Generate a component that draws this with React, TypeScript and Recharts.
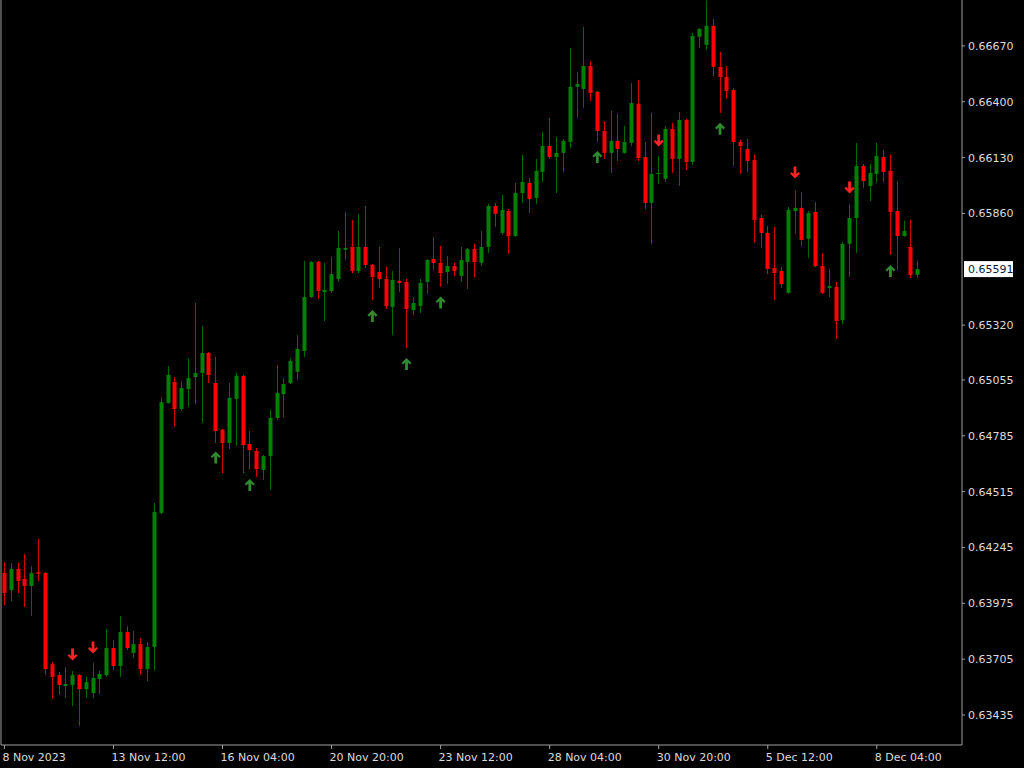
import { ComposedChart, Bar, Scatter, XAxis, YAxis } from 'recharts'

const W = 1024
const H = 768
const AXIS_W = 62
const AXIS_H = 23
const PLOT_RIGHT = W - AXIS_W
const PLOT_BOTTOM = H - AXIS_H

const BODY_UP = '#008000'
const BODY_DN = '#ff0000'
const WICK_UP = '#006a00'
const WICK_DN = '#d40000'
const ARROW_UP = '#2e8b2e'
const ARROW_DN = '#ff2424'
const AXIS = '#a0a0a0'
const TEXT = '#dcdcdc'
const FONT = 'DejaVu Sans'

// H4 candles, 8 Nov 20:00 .. 8 Dec
const opens = [
  0.64122, 0.64039, 0.64141, 0.64093, 0.64059, 0.64125, 0.64122, 0.63681, 0.63628, 0.63575,
  0.63580, 0.63628, 0.63560, 0.63541, 0.63609, 0.63628, 0.63759, 0.63672, 0.63836, 0.63735,
  0.63778, 0.63657, 0.63764, 0.64412, 0.64944, 0.65045, 0.64915, 0.65011, 0.65069, 0.65089,
  0.65185, 0.65040, 0.64813, 0.64750, 0.64963, 0.65074, 0.64745, 0.64711, 0.64620, 0.64687,
  0.64871, 0.64987, 0.65040, 0.65094, 0.65195, 0.65456, 0.65625, 0.65480, 0.65485, 0.65543,
  0.65684, 0.65698, 0.65582, 0.65698, 0.65611, 0.65577, 0.65543, 0.65408, 0.65534, 0.65529,
  0.65393, 0.65413, 0.65529, 0.65640, 0.65621, 0.65577, 0.65606, 0.65558, 0.65625, 0.65688,
  0.65621, 0.65698, 0.65896, 0.65766, 0.65872, 0.65751, 0.65959, 0.66008, 0.65935, 0.66061,
  0.66186, 0.66133, 0.66153, 0.66206, 0.66472, 0.66462, 0.66573, 0.66448, 0.66259, 0.66153,
  0.66211, 0.66153, 0.66201, 0.66390, 0.66133, 0.65911, 0.66051, 0.66027, 0.66269, 0.66124,
  0.66312, 0.66109, 0.66714, 0.66675, 0.66767, 0.66569, 0.66520, 0.66457, 0.66206, 0.66172,
  0.66119, 0.65838, 0.65766, 0.65596, 0.65582, 0.65476, 0.65872, 0.65887, 0.65737, 0.65867,
  0.65606, 0.65500, 0.65505, 0.65345, 0.65713, 0.65838, 0.66090, 0.65993, 0.66051, 0.66133,
  0.66066, 0.65872, 0.65751, 0.65698, 0.65563,
]
const highs = [
  0.64175, 0.64170, 0.64170, 0.64213, 0.64155, 0.64286, 0.64125, 0.63691, 0.63643, 0.63667,
  0.63648, 0.63633, 0.63619, 0.63686, 0.63648, 0.63851, 0.63798, 0.63914, 0.63865, 0.63841,
  0.63807, 0.63788, 0.64460, 0.64968, 0.65123, 0.65069, 0.65050, 0.65161, 0.65427, 0.65316,
  0.65190, 0.65166, 0.64818, 0.65040, 0.65089, 0.65079, 0.64808, 0.64726, 0.64692, 0.64910,
  0.65127, 0.65064, 0.65161, 0.65272, 0.65630, 0.65630, 0.65630, 0.65621, 0.65650, 0.65775,
  0.65867, 0.65829, 0.65858, 0.65896, 0.65616, 0.65698, 0.65601, 0.65582, 0.65693, 0.65543,
  0.65456, 0.65543, 0.65640, 0.65746, 0.65703, 0.65655, 0.65621, 0.65698, 0.65693, 0.65713,
  0.65775, 0.65906, 0.65911, 0.65950, 0.65882, 0.66008, 0.66143, 0.66032, 0.66124, 0.66254,
  0.66322, 0.66230, 0.66220, 0.66660, 0.66544, 0.66762, 0.66598, 0.66452, 0.66307, 0.66356,
  0.66341, 0.66283, 0.66491, 0.66506, 0.66206, 0.66346, 0.66138, 0.66283, 0.66298, 0.66351,
  0.66317, 0.66733, 0.66757, 0.66890, 0.66801, 0.66641, 0.66573, 0.66467, 0.66216, 0.66220,
  0.66143, 0.65853, 0.65800, 0.65795, 0.65601, 0.65891, 0.65974, 0.65964, 0.65872, 0.65916,
  0.65669, 0.65592, 0.65529, 0.65722, 0.65906, 0.66201, 0.66099, 0.66099, 0.66201, 0.66167,
  0.66143, 0.66017, 0.65824, 0.65829, 0.65630,
]
const lows = [
  0.63967, 0.63986, 0.64025, 0.63957, 0.63914, 0.64083, 0.63628, 0.63512, 0.63532, 0.63517,
  0.63478, 0.63382, 0.63517, 0.63517, 0.63536, 0.63619, 0.63652, 0.63619, 0.63749, 0.63710,
  0.63628, 0.63599, 0.63652, 0.64405, 0.64940, 0.64828, 0.64905, 0.64924, 0.64939, 0.64847,
  0.65040, 0.64750, 0.64605, 0.64721, 0.64736, 0.64605, 0.64624, 0.64586, 0.64571, 0.64523,
  0.64861, 0.64871, 0.65035, 0.65055, 0.65166, 0.65451, 0.65446, 0.65340, 0.65476, 0.65529,
  0.65635, 0.65572, 0.65572, 0.65596, 0.65442, 0.65500, 0.65398, 0.65272, 0.65480, 0.65210,
  0.65369, 0.65379, 0.65471, 0.65587, 0.65505, 0.65519, 0.65558, 0.65529, 0.65495, 0.65553,
  0.65606, 0.65669, 0.65795, 0.65756, 0.65664, 0.65746, 0.65911, 0.65862, 0.65906, 0.66012,
  0.66124, 0.65959, 0.66061, 0.66177, 0.66322, 0.66370, 0.66404, 0.66206, 0.66124, 0.66056,
  0.66114, 0.66148, 0.66186, 0.66114, 0.65882, 0.65713, 0.66003, 0.66012, 0.66056, 0.65993,
  0.66070, 0.66095, 0.66660, 0.66651, 0.66525, 0.66346, 0.66414, 0.66090, 0.66051, 0.66061,
  0.65717, 0.65693, 0.65567, 0.65442, 0.65500, 0.65471, 0.65761, 0.65703, 0.65645, 0.65601,
  0.65471, 0.65456, 0.65253, 0.65326, 0.65553, 0.65669, 0.65983, 0.65920, 0.66008, 0.66012,
  0.65659, 0.65587, 0.65746, 0.65548, 0.65548,
]
const closes = [
  0.64025, 0.64141, 0.64083, 0.64059, 0.64122, 0.64118, 0.63657, 0.63619, 0.63580, 0.63585,
  0.63628, 0.63560, 0.63594, 0.63614, 0.63633, 0.63759, 0.63672, 0.63836, 0.63759, 0.63778,
  0.63657, 0.63764, 0.64417, 0.64948, 0.65079, 0.64915, 0.65016, 0.65064, 0.65089, 0.65185,
  0.65079, 0.64808, 0.64750, 0.64968, 0.65074, 0.64740, 0.64716, 0.64624, 0.64687, 0.64871,
  0.64992, 0.65035, 0.65147, 0.65205, 0.65456, 0.65625, 0.65485, 0.65490, 0.65567, 0.65693,
  0.65693, 0.65582, 0.65698, 0.65611, 0.65553, 0.65543, 0.65413, 0.65538, 0.65524, 0.65398,
  0.65427, 0.65524, 0.65635, 0.65621, 0.65572, 0.65606, 0.65582, 0.65635, 0.65688, 0.65625,
  0.65698, 0.65896, 0.65858, 0.65877, 0.65751, 0.65959, 0.66012, 0.65930, 0.66066, 0.66186,
  0.66133, 0.66153, 0.66211, 0.66472, 0.66486, 0.66573, 0.66443, 0.66259, 0.66153, 0.66211,
  0.66172, 0.66206, 0.66394, 0.66128, 0.65911, 0.66051, 0.66056, 0.66269, 0.66124, 0.66312,
  0.66109, 0.66718, 0.66752, 0.66767, 0.66569, 0.66520, 0.66452, 0.66206, 0.66186, 0.66114,
  0.65829, 0.65766, 0.65592, 0.65572, 0.65519, 0.65877, 0.65887, 0.65732, 0.65862, 0.65606,
  0.65476, 0.65509, 0.65340, 0.65713, 0.65838, 0.66090, 0.66017, 0.66056, 0.66138, 0.66061,
  0.65867, 0.65751, 0.65775, 0.65563, 0.65591,
]

// signal arrows (bar index, price at arrow centre)
const upArrowBars = [31, 36, 54, 59, 64, 87, 105, 130]
const upArrowPrices = [0.6468, 0.64547, 0.65364, 0.65132, 0.6543, 0.66133, 0.66269, 0.65582]
const downArrowBars = [10, 13, 96, 116, 124]
const downArrowPrices = [0.63727, 0.63761, 0.66213, 0.66058, 0.65986]

const timeLabelBars = [0, 16, 32, 48, 64, 80, 96, 112, 128]
const timeLabels = [
  '8 Nov 2023', '13 Nov 12:00', '16 Nov 04:00', '20 Nov 20:00', '23 Nov 12:00',
  '28 Nov 04:00', '30 Nov 20:00', '5 Dec 12:00', '8 Dec 04:00',
]

const priceTicks = [
  0.63435, 0.63705, 0.63975, 0.64245, 0.64515, 0.64785, 0.65055, 0.6532,
  0.65591, 0.6586, 0.6613, 0.664, 0.6667,
]
const lastPrice = 0.65591
const priceDomain = [0.6329, 0.66892]
const shiftBars = 6 // empty space right of the last candle

const rows = Array.from({ length: opens.length + shiftBars }, (_, i) => {
  if (i >= opens.length) return { i, range: null }
  const u = upArrowBars.indexOf(i)
  const d = downArrowBars.indexOf(i)
  return {
    i,
    o: opens[i],
    h: highs[i],
    l: lows[i],
    c: closes[i],
    range: [lows[i], highs[i]],
    up: u >= 0 ? upArrowPrices[u] : null,
    down: d >= 0 ? downArrowPrices[d] : null,
  }
})

function Candle(props: any) {
  const { x, y, width, height, payload } = props
  if (!payload || payload.o == null || y == null) return <g />
  const { o, h, l, c } = payload
  const top = Math.min(y, y + height)
  const span = Math.abs(height)
  const k = h > l ? span / (h - l) : 0
  const py = (p: number) => top + (h - p) * k
  const bull = c >= o
  const px = Math.floor(x + width / 2)
  const bTop = py(Math.max(o, c))
  const bBot = py(Math.min(o, c))
  return (
    <g>
      <line x1={px + 0.5} x2={px + 0.5} y1={top} y2={top + span} stroke={bull ? WICK_UP : WICK_DN} />
      <rect x={px - 1.5} y={bTop} width={4} height={Math.max(1, bBot - bTop)} fill={bull ? BODY_UP : BODY_DN} />
    </g>
  )
}

function UpArrow(props: any) {
  const { cx, cy, payload } = props
  if (!payload || payload.up == null || cx == null || cy == null) return <g />
  return (
    <path
      transform={`translate(${cx},${cy})`}
      d="M0,-6 L5,-1 L3.4,0.6 L1.4,-1.4 L1.4,6 L-1.4,6 L-1.4,-1.4 L-3.4,0.6 L-5,-1 Z"
      fill={ARROW_UP}
    />
  )
}

function DownArrow(props: any) {
  const { cx, cy, payload } = props
  if (!payload || payload.down == null || cx == null || cy == null) return <g />
  return (
    <path
      transform={`translate(${cx},${cy})`}
      d="M0,6 L5,1 L3.4,-0.6 L1.4,1.4 L1.4,-6 L-1.4,-6 L-1.4,1.4 L-3.4,-0.6 L-5,1 Z"
      fill={ARROW_DN}
    />
  )
}

function TimeTick(props: any) {
  const { x, payload } = props
  const k = timeLabelBars.indexOf(payload.value)
  if (k < 0) return <g />
  return (
    <g>
      <line x1={x} x2={x} y1={PLOT_BOTTOM} y2={PLOT_BOTTOM + 4} stroke={AXIS} />
      <text x={x - 2} y={PLOT_BOTTOM + 16} fill={TEXT} fontSize={11} fontFamily={FONT} textAnchor="start">
        {timeLabels[k]}
      </text>
    </g>
  )
}

function PriceTick(props: any) {
  const { y, payload } = props
  const v = payload.value
  if (v === lastPrice) {
    return (
      <g>
        <rect x={PLOT_RIGHT + 2} y={y - 8} width={49} height={16} fill="#ffffff" />
        <text x={PLOT_RIGHT + 6} y={y} dy="0.36em" fill="#101a36" fontSize={11} fontFamily={FONT}>
          {v.toFixed(5)}
        </text>
      </g>
    )
  }
  return (
    <g>
      <line x1={PLOT_RIGHT} x2={PLOT_RIGHT + 3} y1={y} y2={y} stroke={AXIS} />
      <text x={PLOT_RIGHT + 6} y={y} dy="0.36em" fill={TEXT} fontSize={11} fontFamily={FONT}>
        {v.toFixed(5)}
      </text>
    </g>
  )
}

export default function App() {
  return (
    <div style={{ position: 'absolute', left: 0, top: 0, width: W, height: H, background: '#000' }}>
      <ComposedChart
        width={W}
        height={H}
        data={rows}
        margin={{ top: 0, right: 0, bottom: 0, left: 0 }}
        barCategoryGap="0%"
        style={{ background: '#000' }}
      >
        <XAxis
          dataKey="i"
          type="category"
          interval={0}
          height={AXIS_H}
          tickLine={false}
          axisLine={{ stroke: AXIS }}
          tick={<TimeTick />}
        />
        <YAxis
          yAxisId="frame"
          orientation="left"
          width={1}
          domain={priceDomain}
          tick={false}
          tickLine={false}
          axisLine={{ stroke: AXIS }}
        />
        <YAxis
          yAxisId="p"
          orientation="right"
          width={AXIS_W}
          type="number"
          domain={priceDomain}
          allowDataOverflow
          ticks={priceTicks}
          interval={0}
          tickLine={false}
          axisLine={{ stroke: AXIS }}
          tick={<PriceTick />}
        />
        <Bar yAxisId="p" dataKey="range" shape={<Candle />} isAnimationActive={false} />
        <Scatter yAxisId="p" dataKey="up" shape={<UpArrow />} isAnimationActive={false} />
        <Scatter yAxisId="p" dataKey="down" shape={<DownArrow />} isAnimationActive={false} />
      </ComposedChart>
    </div>
  )
}
